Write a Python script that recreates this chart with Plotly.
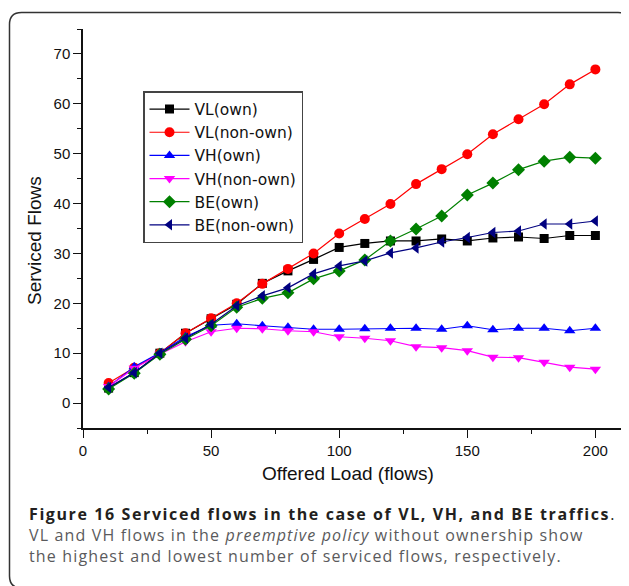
import plotly.graph_objects as go

offered_load = [10, 20, 30, 40, 50, 60, 70, 80, 90, 100, 110, 120, 130, 140, 150, 160, 170, 180, 190, 200]

vl_own = [3.0, 6.1, 10.0, 14.0, 16.9, 19.8, 24.0, 26.5, 28.8, 31.2, 32.0, 32.5, 32.5, 32.9, 32.5, 33.1, 33.3, 33.0, 33.6, 33.6]
vl_nonown = [4.0, 7.1, 10.0, 14.0, 17.0, 20.0, 23.9, 26.9, 30.0, 34.0, 36.9, 39.9, 43.9, 46.9, 49.9, 53.9, 56.9, 59.9, 63.9, 66.9]
vh_own = [3.3, 7.3, 10.1, 13.3, 15.6, 15.9, 15.5, 15.2, 14.8, 14.8, 14.9, 15.0, 15.0, 14.8, 15.5, 14.7, 15.0, 15.0, 14.5, 15.0]
vh_nonown = [3.3, 7.0, 9.8, 12.3, 14.3, 15.0, 14.9, 14.5, 14.3, 13.3, 13.0, 12.5, 11.3, 11.1, 10.5, 9.2, 9.1, 8.2, 7.2, 6.8]
be_own = [2.8, 6.0, 9.8, 12.8, 15.5, 19.2, 21.0, 22.1, 24.9, 26.5, 28.7, 32.5, 34.9, 37.5, 41.7, 44.1, 46.8, 48.5, 49.3, 49.1]
be_nonown = [3.1, 6.1, 10.0, 13.0, 15.8, 19.5, 21.5, 23.1, 25.9, 27.5, 28.5, 30.1, 31.1, 32.3, 33.2, 34.2, 34.5, 35.9, 35.9, 36.5]

series_names = ["VL(own)", "VL(non-own)", "VH(own)", "VH(non-own)", "BE(own)", "BE(non-own)"]
series_values = [vl_own, vl_nonown, vh_own, vh_nonown, be_own, be_nonown]
series_colors = ["#000000", "#ff0000", "#0000ff", "#ff00ff", "#008000", "#000080"]
series_symbols = ["square", "circle", "triangle-up", "triangle-down", "diamond", "triangle-left"]
series_sizes = [9, 10, 10, 10, 10, 10]

y_ticks = [0, 10, 20, 30, 40, 50, 60, 70]
x_ticks = [0, 50, 100, 150, 200]

# page body has an 8px margin; figure is sized to fit the 629x586 window
OFF = 8
W, H = 629 - OFF, 586 - OFF
# plot area in page pixels
PL, PR, PT, PB = 83, 621, 29, 428
L, R, T, B = PL - OFF, PR - OFF, PT - OFF, PB - OFF


def fx(px):
    return (px - OFF - L) / (R - L)


def fy(py):
    return (B - (py - OFF)) / (B - T)


fig = go.Figure()
for name, vals, col, sym, sz in zip(series_names, series_values, series_colors, series_symbols, series_sizes):
    fig.add_trace(go.Scatter(
        x=offered_load, y=vals, name=name, mode="lines+markers",
        line=dict(color=col, width=1.2),
        marker=dict(symbol=sym, size=sz, color=col, line=dict(width=0)),
    ))

axis_font = dict(family="Liberation Sans, Arial, sans-serif", size=15, color="#111")

fig.update_layout(
    width=W, height=H,
    margin=dict(l=L, r=W - R, t=T, b=H - B, pad=0),
    paper_bgcolor="white", plot_bgcolor="white",
    showlegend=True,
    legend=dict(
        x=fx(143), y=fy(91), xanchor="left", yanchor="top",
        bgcolor="white", bordercolor="#444", borderwidth=1.5,
        font=dict(family="DejaVu Sans, sans-serif", size=15.5, color="#111"),
        tracegroupgap=0, itemwidth=40,
    ),
    xaxis=dict(
        range=[0, 210], tickvals=x_ticks, ticks="outside", ticklen=8, tickwidth=1.3,
        tickcolor="#111", showline=True, linecolor="#111", linewidth=1.5,
        showgrid=False, zeroline=False, tickfont=axis_font,
        minor=dict(tickvals=[25, 75, 125, 175], ticks="outside", ticklen=4, tickwidth=1.3, tickcolor="#111", showgrid=False),
    ),
    yaxis=dict(
        range=[-5, 75], tickvals=y_ticks, ticks="outside", ticklen=8, tickwidth=1.3,
        tickcolor="#111", showline=True, linecolor="#111", linewidth=1.5,
        showgrid=False, zeroline=False, tickfont=axis_font,
        minor=dict(tickvals=[-5, 5, 15, 25, 35, 45, 55, 65, 75], ticks="outside", ticklen=4, tickwidth=1.3, tickcolor="#111", showgrid=False),
    ),
)

title_font = dict(family="Liberation Sans, Arial, sans-serif", size=19, color="#111")
fig.add_annotation(text="Serviced Flows", xref="paper", yref="paper", x=fx(34), y=fy(241),
                   textangle=-90, showarrow=False, font=title_font, xanchor="center", yanchor="middle")
fig.add_annotation(text="Offered Load (flows)", xref="paper", yref="paper", x=fx(348), y=fy(473),
                   showarrow=False, font=title_font, xanchor="center", yanchor="middle")

cap_font = dict(family="Open Sans, sans-serif", size=16, color="#231f20")
gray_font = dict(family="Open Sans, sans-serif", size=16, color="#5a5a5c")
fig.add_annotation(text='<span style="letter-spacing:1.6px"><b>Figure 16 Serviced flows in the case of VL, VH, and BE traffics</b>.</span>',
                   xref="paper", yref="paper", x=fx(27), y=fy(514), showarrow=False,
                   font=cap_font, xanchor="left", yanchor="middle")
fig.add_annotation(text='<span style="letter-spacing:1.15px">VL and VH flows in the <i>preemptive policy</i> without ownership show</span>',
                   xref="paper", yref="paper", x=fx(27), y=fy(535), showarrow=False,
                   font=gray_font, xanchor="left", yanchor="middle")
fig.add_annotation(text='<span style="letter-spacing:1.15px">the highest and lowest number of serviced flows, respectively.</span>',
                   xref="paper", yref="paper", x=fx(27), y=fy(556), showarrow=False,
                   font=gray_font, xanchor="left", yanchor="middle")

# rounded frame around the figure (page pixel coords)
x0, x1, y0, y1, r = 9.5, 630, 12.5, 588, 12
pts = [
    ("M", x0 + r, y0), ("L", x1 - r, y0), ("Q", x1, y0, x1, y0 + r), ("L", x1, y1 - r),
    ("Q", x1, y1, x1 - r, y1), ("L", x0 + r, y1), ("Q", x0, y1, x0, y1 - r), ("L", x0, y0 + r),
    ("Q", x0, y0, x0 + r, y0),
]
path = ""
for p in pts:
    cmd = p[0]
    coords = p[1:]
    parts = []
    for i in range(0, len(coords), 2):
        parts.append(f"{fx(coords[i]):.5f},{fy(coords[i + 1]):.5f}")
    path += cmd + " ".join(parts) + " "
fig.add_shape(type="path", path=path + "Z", xref="paper", yref="paper",
              line=dict(color="#333", width=1.5), layer="below")

fig.write_html("out.html")
